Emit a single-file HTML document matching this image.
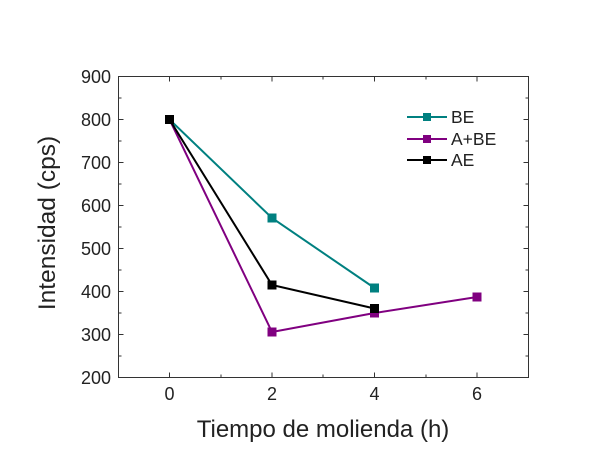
<!DOCTYPE html>
<html><head><meta charset="utf-8"><style>
html,body{margin:0;padding:0;background:#fff;}
svg text{font-family:"Liberation Sans",Arial,sans-serif;fill:#222;}
</style></head><body>
<svg width="600" height="471" viewBox="0 0 600 471" xmlns="http://www.w3.org/2000/svg">
<rect width="600" height="471" fill="#fff"/>
<g stroke="#333" stroke-width="1" fill="none">
<rect x="118.5" y="76.5" width="410" height="301"/>
<path d="M118.5 76.5h5M118.5 119.5h5M118.5 162.5h5M118.5 205.5h5M118.5 248.5h5M118.5 291.5h5M118.5 334.5h5
M118.5 98h3M118.5 141h3M118.5 184h3M118.5 227h3M118.5 270h3M118.5 313h3M118.5 356h3
M528.5 76.5h-5M528.5 119.5h-5M528.5 162.5h-5M528.5 205.5h-5M528.5 248.5h-5M528.5 291.5h-5M528.5 334.5h-5
M528.5 98h-3M528.5 141h-3M528.5 184h-3M528.5 227h-3M528.5 270h-3M528.5 313h-3M528.5 356h-3"/>
<path d="M169.5 377.5v-5M272 377.5v-5M374.5 377.5v-5M477 377.5v-5
M221 377.5v-3M323 377.5v-3M426 377.5v-3
M169.5 76.5v5M272 76.5v5M374.5 76.5v5M477 76.5v5
M221 76.5v3M323 76.5v3M426 76.5v3"/>
</g>
<g font-size="18" text-anchor="end">
<text x="111" y="83">900</text><text x="111" y="126">800</text><text x="111" y="169">700</text>
<text x="111" y="212">600</text><text x="111" y="255">500</text><text x="111" y="298">400</text>
<text x="111" y="341">300</text><text x="111" y="384">200</text>
</g>
<g font-size="18" text-anchor="middle">
<text x="169.5" y="400">0</text><text x="272" y="400">2</text><text x="374.5" y="400">4</text><text x="477" y="400">6</text>
</g>
<text x="323" y="437" font-size="24" text-anchor="middle">Tiempo de molienda (h)</text>
<text transform="translate(55,223) rotate(-90)" font-size="24.5" text-anchor="middle">Intensidad (cps)</text>
<g stroke-width="2" fill="none">
<polyline stroke="#008080" points="169.5,119.5 272,218 374.5,288"/>
<polyline stroke="#800080" points="169.5,119.5 272,332 374.5,313 477,297"/>
<polyline stroke="#000" points="169.5,119.5 272,285 374.5,308.5"/>
</g>
<g fill="#008080"><rect x="165" y="115" width="9" height="9"/><rect x="267.5" y="213.5" width="9" height="9"/><rect x="370" y="283.5" width="9" height="9"/></g>
<g fill="#800080"><rect x="267.5" y="327.5" width="9" height="9"/><rect x="370" y="308.5" width="9" height="9"/><rect x="472.5" y="292.5" width="9" height="9"/></g>
<g fill="#000"><rect x="165" y="115" width="9" height="9"/><rect x="267.5" y="280.5" width="9" height="9"/><rect x="370" y="304" width="9" height="9"/></g>
<g stroke-width="2">
<line x1="407" y1="117" x2="447" y2="117" stroke="#008080"/>
<line x1="407" y1="139" x2="447" y2="139" stroke="#800080"/>
<line x1="407" y1="160" x2="447" y2="160" stroke="#000"/>
</g>
<rect x="423" y="113" width="8" height="8" fill="#008080"/>
<rect x="423" y="135" width="8" height="8" fill="#800080"/>
<rect x="423" y="156" width="8" height="8" fill="#000"/>
<g font-size="17.5">
<text x="451" y="123">BE</text><text x="451" y="145">A+BE</text><text x="451" y="166">AE</text>
</g>
</svg>
</body></html>
